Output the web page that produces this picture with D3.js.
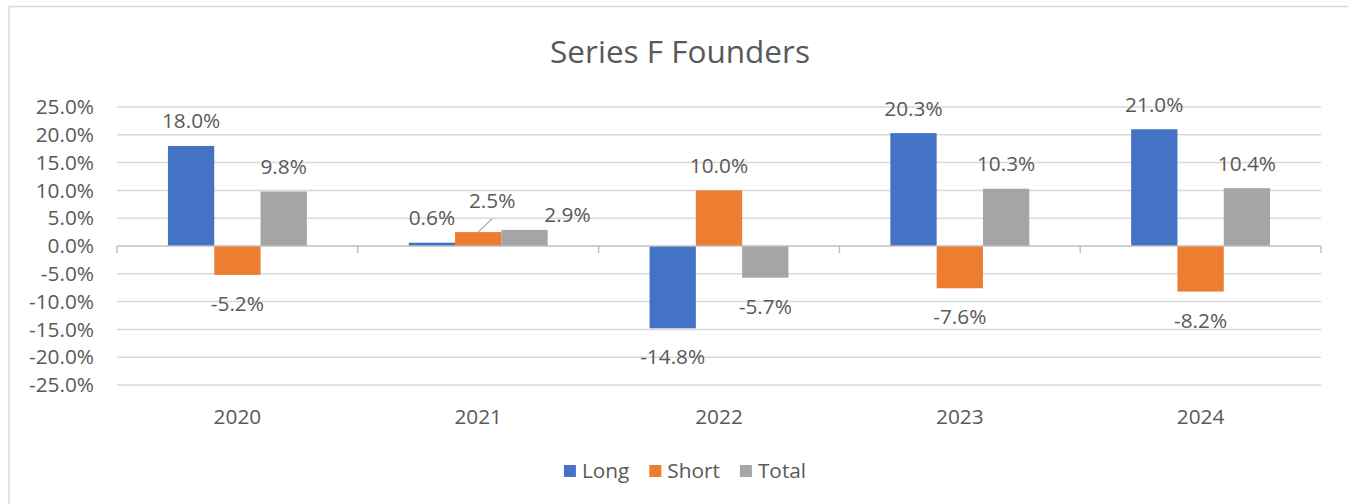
<!DOCTYPE html>
<html>
<head>
<meta charset="utf-8">
<script src="https://cdn.jsdelivr.net/npm/d3@7"></script>
<style>
  html, body { margin: 0; padding: 0; background: #fff; }
  svg { display: block; font-family: "Open Sans", sans-serif; }
</style>
</head>
<body>
<div id="container"></div>
<script>
const WIDTH = 1348;
const HEIGHT = 504;

const years = ["2020", "2021", "2022", "2023", "2024"];
const seriesNames = ["Long", "Short", "Total"];
const longValues = [0.180, 0.006, -0.148, 0.203, 0.210];
const shortValues = [-0.052, 0.025, 0.100, -0.076, -0.082];
const totalValues = [0.098, 0.029, -0.057, 0.103, 0.104];
const yTicks = [0.25, 0.20, 0.15, 0.10, 0.05, 0, -0.05, -0.10, -0.15, -0.20, -0.25];

const colors = {"Long": "#4472c4", "Short": "#ed7d31", "Total": "#a5a5a5"};
const TEXT = "#595959";
const FONT = "20.8px";

// manual label moves, same as the ones done by hand in the original
const labelNudge = {"2021-Short": [14, -7, true], "2021-Total": [43, 10, false]};

var translate = function (x, y) {
    return "translate(" + x + "," + y + ")";
};

var pct = function (v) {
    return (v * 100).toFixed(1) + "%";
};

var createChart = function () {
    var rows = [];
    years.forEach(function (y, i) {
        rows.push({year: y, series: "Long", value: longValues[i]});
        rows.push({year: y, series: "Short", value: shortValues[i]});
        rows.push({year: y, series: "Total", value: totalValues[i]});
    });

    var svg = d3.select("#container")
        .append("svg")
        .attr("width", WIDTH)
        .attr("height", HEIGHT);

    // chart frame (right and bottom edges fall outside the picture)
    svg.append("rect")
        .attr("x", 9).attr("y", 6.5)
        .attr("width", 1400).attr("height", 600)
        .attr("fill", "#fff")
        .attr("stroke", "#d9d9d9")
        .attr("stroke-width", 1.5);

    svg.append("text")
        .attr("x", 680).attr("y", 63)
        .attr("text-anchor", "middle")
        .attr("fill", TEXT)
        .style("font-size", "31.5px")
        .text("Series F Founders");

    var xScale = d3.scaleBand().domain(years).range([117, 1321]).padding(0);
    var xInner = d3.scaleBand().domain(seriesNames).range([0, xScale.bandwidth()])
        .paddingInner(0).paddingOuter(1.1);
    var yScale = d3.scaleLinear().domain([-0.25, 0.25]).range([385, 107]);

    // gridlines
    svg.append("g")
        .selectAll("line").data(yTicks.filter(function (t) { return t !== 0; }))
        .enter().append("line")
        .attr("x1", 117).attr("x2", 1321)
        .attr("y1", function (d) { return yScale(d); })
        .attr("y2", function (d) { return yScale(d); })
        .attr("stroke", "#d9d9d9")
        .attr("stroke-width", 1.5);

    var yAxis = d3.axisLeft(yScale).tickValues(yTicks).tickFormat(pct).tickSize(0).tickPadding(0);
    var gy = svg.append("g").attr("transform", translate(94, 0)).call(yAxis);
    gy.select(".domain").remove();
    gy.selectAll("text")
        .attr("fill", TEXT)
        .style("font-size", FONT)
        .style("font-family", "Open Sans, sans-serif");

    // bars
    svg.append("g")
        .selectAll("rect").data(rows)
        .enter().append("rect")
        .attr("x", function (d) { return xScale(d.year) + xInner(d.series); })
        .attr("width", xInner.bandwidth())
        .attr("y", function (d) { return yScale(Math.max(0, d.value)); })
        .attr("height", function (d) { return Math.abs(yScale(d.value) - yScale(0)); })
        .attr("fill", function (d) { return colors[d.series]; });

    // zero axis with tick marks between categories
    var xAxis = d3.axisBottom(xScale).tickSize(0).tickPadding(0).tickFormat("");
    var gx = svg.append("g").attr("transform", translate(0, yScale(0))).call(xAxis);
    gx.select(".domain").attr("stroke", "#bfbfbf").attr("stroke-width", 1.5)
        .attr("d", "M117,0H1321");
    gx.selectAll(".tick").remove();
    gx.selectAll("line.sep").data(years.concat(["end"]))
        .enter().append("line")
        .attr("class", "sep")
        .attr("x1", function (d) { return d === "end" ? 1321 : xScale(d); })
        .attr("x2", function (d) { return d === "end" ? 1321 : xScale(d); })
        .attr("y1", 0).attr("y2", 7)
        .attr("stroke", "#bfbfbf")
        .attr("stroke-width", 1.5);

    svg.append("g")
        .selectAll("text").data(years)
        .enter().append("text")
        .attr("x", function (d) { return xScale(d) + xScale.bandwidth() / 2; })
        .attr("y", 424)
        .attr("text-anchor", "middle")
        .attr("fill", TEXT)
        .style("font-size", FONT)
        .text(function (d) { return d; });

    // data labels
    var labelPos = function (d) {
        var cx = xScale(d.year) + xInner(d.series) + xInner.bandwidth() / 2;
        var y = d.value >= 0 ? yScale(d.value) - 17.5 : yScale(d.value) + 36;
        var n = labelNudge[d.year + "-" + d.series];
        if (n) { cx += n[0]; y += n[1]; }
        return [cx, y];
    };

    var labels = svg.append("g");
    rows.forEach(function (d) {
        var p = labelPos(d);
        var n = labelNudge[d.year + "-" + d.series];
        if (n && n[2]) {
            var bx = xScale(d.year) + xInner(d.series) + xInner.bandwidth() / 2;
            labels.append("line")
                .attr("x1", bx).attr("y1", yScale(d.value))
                .attr("x2", p[0]).attr("y2", p[1] + 11)
                .attr("stroke", "#a6a6a6")
                .attr("stroke-width", 1.2);
        }
        labels.append("text")
            .attr("x", p[0]).attr("y", p[1])
            .attr("text-anchor", "middle")
            .attr("fill", TEXT)
            .style("font-size", FONT)
            .text(pct(d.value));
    });

    // legend
    var legend = svg.append("g");
    var xPos = 0;
    seriesNames.forEach(function (s) {
        var item = legend.append("g").attr("transform", translate(xPos, 0));
        item.append("rect")
            .attr("x", 0).attr("y", -6)
            .attr("width", 12).attr("height", 12)
            .attr("fill", colors[s]);
        var t = item.append("text")
            .attr("x", 18).attr("y", 7)
            .attr("fill", TEXT)
            .style("font-size", FONT)
            .text(s);
        xPos += 18 + t.node().getComputedTextLength() + 20;
    });
    var legendW = xPos - 20;
    legend.attr("transform", translate(685 - legendW / 2, 471));
};

window.onload = createChart;
</script>
</body>
</html>
